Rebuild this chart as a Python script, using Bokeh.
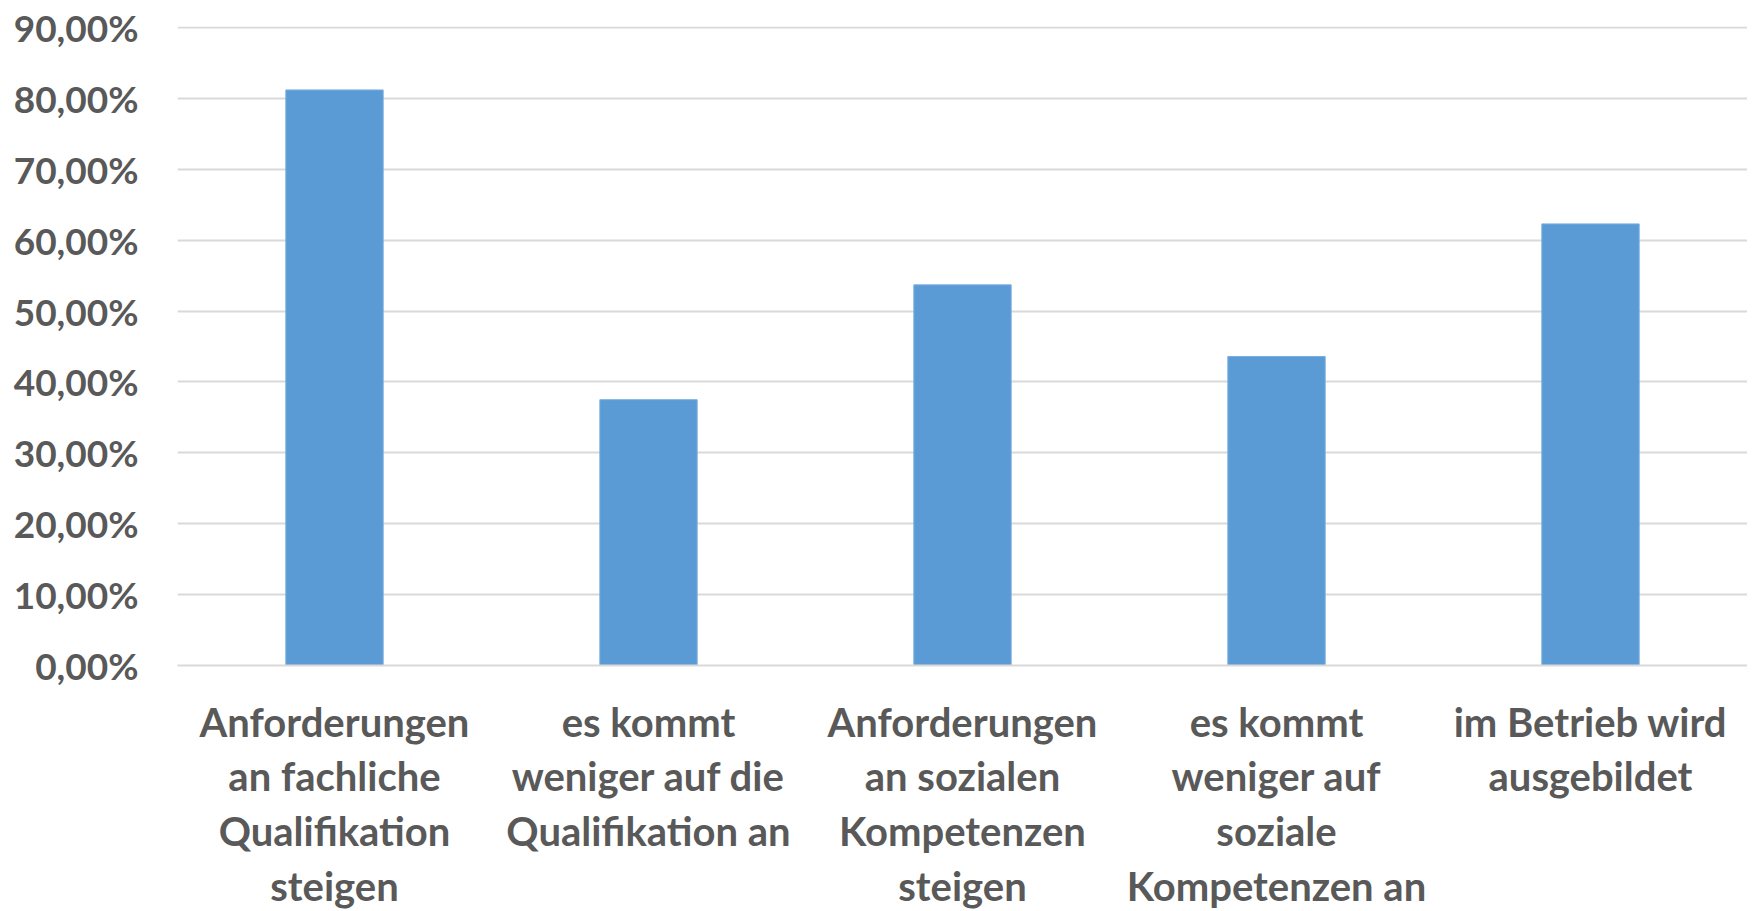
from bokeh.plotting import figure
from bokeh.models import FactorRange, Range1d, FixedTicker, CustomJSTickFormatter, ColumnDataSource
from bokeh.embed import file_html
from bokeh.resources import INLINE

categories = [
    "Anforderungen\nan fachliche\nQualifikation\nsteigen",
    "es kommt\nweniger auf die\nQualifikation an",
    "Anforderungen\nan sozialen\nKompetenzen\nsteigen",
    "es kommt\nweniger auf\nsoziale\nKompetenzen an",
    "im Betrieb wird\nausgebildet",
]
values = [0.812, 0.375, 0.537, 0.436, 0.623]
y_ticks = [0.0, 0.1, 0.2, 0.3, 0.4, 0.5, 0.6, 0.7, 0.8, 0.9]

src = ColumnDataSource(dict(cat=categories, val=values))

p = figure(
    x_range=FactorRange(*categories),
    y_range=Range1d(0, 0.9015),
    frame_width=1570, frame_height=639,
    min_border_left=177, min_border_top=26, min_border_right=0, min_border_bottom=10,
    output_backend="svg", toolbar_location=None,
)
p.vbar(x="cat", top="val", width=0.31, source=src,
       fill_color="#5b9bd5", line_color="#7aaee0", line_width=1)

FONT = "Lato"
GRAY = "#595959"

p.outline_line_color = None
p.xgrid.grid_line_color = None
p.ygrid.grid_line_color = "#d9d9d9"
p.ygrid.grid_line_width = 2

p.yaxis.ticker = FixedTicker(ticks=y_ticks)
p.yaxis.formatter = CustomJSTickFormatter(code="return (tick*100).toFixed(2).replace('.', ',') + '%';")
p.yaxis.axis_line_color = None
p.yaxis.major_tick_line_color = None
p.yaxis.minor_tick_line_color = None
p.yaxis.major_tick_out = 0
p.yaxis.major_label_standoff = 39
p.yaxis.major_label_text_font = FONT
p.yaxis.major_label_text_font_size = "37px"
p.yaxis.major_label_text_font_style = "bold"
p.yaxis.major_label_text_color = GRAY

p.xaxis.axis_line_color = "#d9d9d9"
p.xaxis.axis_line_width = 2
p.xaxis.major_tick_line_color = None
p.xaxis.major_tick_out = 0
p.xaxis.major_label_standoff = 32
p.xaxis.major_label_text_font = FONT
p.xaxis.major_label_text_font_size = "40px"
p.xaxis.major_label_text_font_style = "bold"
p.xaxis.major_label_text_color = GRAY
p.xaxis.major_label_text_line_height = 1.145
p.xaxis.major_label_orientation = "horizontal"

open("out.html", "w").write(file_html(p, INLINE))
